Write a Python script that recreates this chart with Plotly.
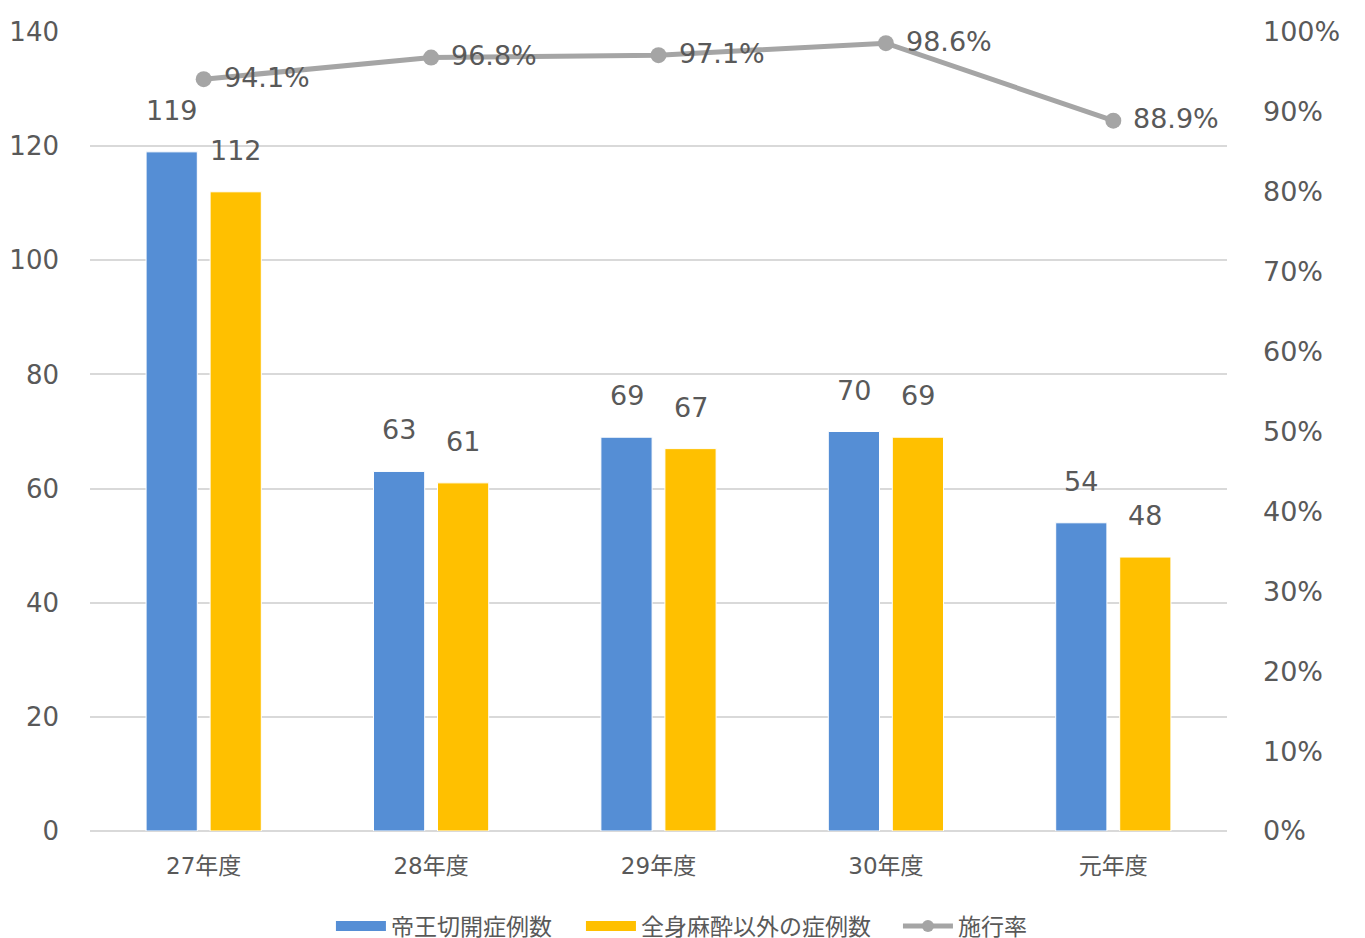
import plotly.graph_objects as go

categories = ["27年度", "28年度", "29年度", "30年度", "元年度"]
cesarean = [119, 63, 69, 70, 54]
non_general = [112, 61, 67, 69, 48]
rate = [0.941, 0.968, 0.971, 0.986, 0.889]
rate_labels = ["94.1%", "96.8%", "97.1%", "98.6%", "88.9%"]

FONT = "DejaVu Sans, Noto Sans CJK JP, sans-serif"
TXT = "#595959"
BLUE = "#558ED5"
YELLOW = "#FFC000"
GRAY = "#A5A5A5"

fig = go.Figure()
fig.add_trace(go.Bar(x=categories, y=cesarean, name="帝王切開症例数", showlegend=False,
                     marker=dict(color=BLUE, line=dict(color="white", width=1))))
fig.add_trace(go.Bar(x=categories, y=non_general, name="全身麻酔以外の症例数", showlegend=False,
                     marker=dict(color=YELLOW, line=dict(color="white", width=1))))
fig.add_trace(go.Scatter(x=categories, y=rate, name="施行率", yaxis="y2",
                         mode="lines+markers", cliponaxis=False, showlegend=False,
                         line=dict(color=GRAY, width=5),
                         marker=dict(color=GRAY, size=16)))
# legend entries (swatches only)
fig.add_trace(go.Scatter(x=[None], y=[None], name="帝王切開症例数", mode="lines",
                         line=dict(color=BLUE, width=10), legend="legend"))
fig.add_trace(go.Scatter(x=[None], y=[None], name="全身麻酔以外の症例数", mode="lines",
                         line=dict(color=YELLOW, width=10), legend="legend2"))
fig.add_trace(go.Scatter(x=[None], y=[None], name="施行率", mode="lines+markers",
                         line=dict(color=GRAY, width=5), marker=dict(color=GRAY, size=12),
                         legend="legend3"))

annotations = []
for c, v in zip(categories, cesarean):
    annotations.append(dict(x=c, y=v, xref="x", yref="y", text=str(v), showarrow=False,
                            xshift=-32, yshift=24, yanchor="bottom",
                            font=dict(size=27, color=TXT, family=FONT)))
for c, v in zip(categories, non_general):
    annotations.append(dict(x=c, y=v, xref="x", yref="y", text=str(v), showarrow=False,
                            xshift=32, yshift=24, yanchor="bottom",
                            font=dict(size=27, color=TXT, family=FONT)))
for c, v, t in zip(categories, rate, rate_labels):
    annotations.append(dict(x=c, y=v, xref="x", yref="y2", text=t, showarrow=False,
                            xshift=18, yshift=2, xanchor="left", yanchor="middle",
                            font=dict(size=27, color=TXT, family=FONT)))

legend_common = dict(orientation="h", y=-0.119, yanchor="middle", xanchor="left",
                     font=dict(size=23, color=TXT, family=FONT), itemwidth=50,
                     bgcolor="rgba(0,0,0,0)")

fig.update_layout(
    width=1365, height=938,
    margin=dict(l=82, r=146, t=24, b=115, autoexpand=False),
    paper_bgcolor="white", plot_bgcolor="white",
    font=dict(family=FONT, color=TXT),
    barmode="group", bargap=0.437, bargroupgap=0.2,
    annotations=annotations,
    xaxis=dict(showgrid=False, showline=False, zeroline=False, automargin=False,
               ticks="outside", ticklen=14, tickcolor="rgba(0,0,0,0)",
               tickfont=dict(size=23, color=TXT, family=FONT)),
    yaxis=dict(range=[0, 140], dtick=20, showgrid=True, gridcolor="#D9D9D9", gridwidth=2,
               zeroline=True, zerolinecolor="#D9D9D9", zerolinewidth=2, automargin=False,
               showline=False, ticklabelstandoff=30,
               tickfont=dict(size=26, color=TXT, family=FONT)),
    yaxis2=dict(range=[0, 1], dtick=0.1, tickformat=".0%", overlaying="y", side="right",
                showgrid=False, zeroline=False, showline=False, ticklabelstandoff=35,
                automargin=False,
                tickfont=dict(size=27, color=TXT, family=FONT)),
    legend=dict(x=0.2119, **legend_common),
    legend2=dict(x=0.4318, **legend_common),
    legend3=dict(x=0.7106, **legend_common),
    showlegend=True,
)

fig.write_html("out.html")
